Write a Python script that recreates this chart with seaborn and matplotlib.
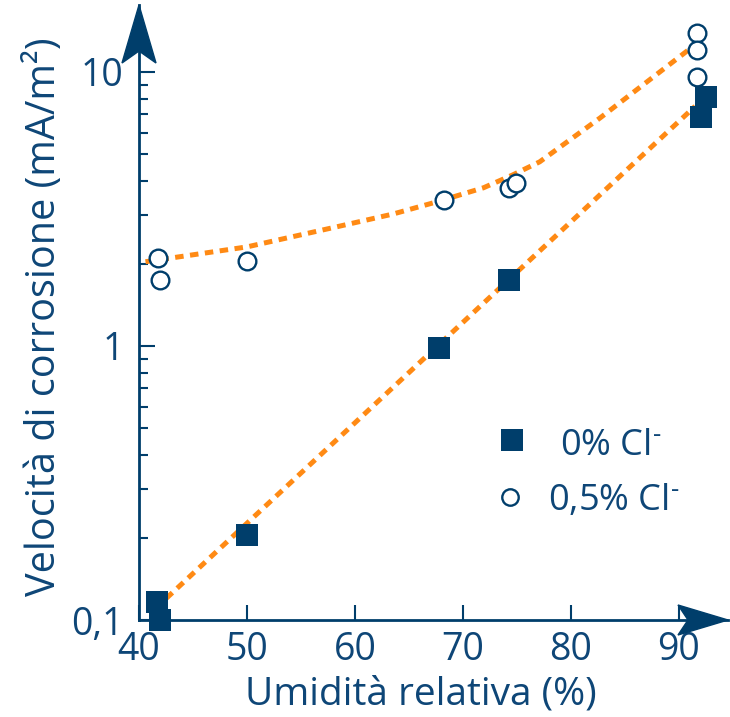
import numpy as np
import pandas as pd
import matplotlib
matplotlib.use('Agg')
import matplotlib.pyplot as plt
import seaborn as sns
from matplotlib.patches import Polygon
from matplotlib.ticker import NullFormatter

# 0% Cl- (quadrati)
sq_x = [41.7, 41.9, 50.0, 67.8, 74.3, 92.0, 92.5]
sq_y = [0.116, 0.100, 0.204, 0.98, 1.74, 6.85, 8.1]
# 0,5% Cl- (cerchi)
ci_x = [41.8, 41.9, 50.0, 68.2, 74.3, 74.9, 91.7, 91.7, 91.7]
ci_y = [2.09, 1.74, 2.04, 3.41, 3.78, 3.94, 13.9, 12.0, 9.6]
# linee di tendenza
sq_fit_x = [41.5, 91.5]
sq_fit_y = [0.110, 7.5]
ci_fit_x = [40.6, 50.0, 57.9, 63.5, 67.6, 71.9, 74.6, 77.1, 82.7, 91.3]
ci_fit_y = [2.03, 2.30, 2.70, 3.03, 3.36, 3.78, 4.21, 4.70, 6.80, 12.4]

x_ticks = [40, 50, 60, 70, 80, 90]
y_ticks = [0.1, 1, 10]
y_labels = ['0,1', '1', '10']
legend_labels = ['0% Cl$^{\u2010}$', '0,5% Cl$^{\u2010}$']

navy = '#003e6b'
txt = '#0e4677'
orange = '#ff8a14'

sns.set_theme(style='white')
plt.rcParams['font.family'] = ['Open Sans', 'DejaVu Sans']
plt.rcParams['mathtext.fontset'] = 'custom'
plt.rcParams['mathtext.rm'] = 'Open Sans'
plt.rcParams['mathtext.it'] = 'Open Sans'
plt.rcParams['mathtext.default'] = 'regular'
plt.rcParams['xtick.direction'] = 'in'
plt.rcParams['ytick.direction'] = 'in'
plt.rcParams['xtick.bottom'] = True
plt.rcParams['ytick.left'] = True
fs = 27

fig = plt.figure(figsize=(7.3, 7.17), dpi=100)
ax = fig.add_axes([139/730, 97/717, 589/730, 615/717])

dots = (0, (1.7, 1.3))
sns.lineplot(x=sq_fit_x, y=sq_fit_y, ax=ax, color=orange, lw=3.6, linestyle=dots, zorder=2)
sns.lineplot(x=ci_fit_x, y=ci_fit_y, ax=ax, color=orange, lw=3.6, linestyle=dots, zorder=2)

sns.scatterplot(x=sq_x, y=sq_y, ax=ax, marker='s', s=235, color=navy, edgecolor=navy,
                linewidth=0, zorder=6, clip_on=False)
sns.scatterplot(x=ci_x, y=ci_y, ax=ax, marker='o', s=162, facecolor='white', edgecolor=navy,
                linewidth=1.7, zorder=5, clip_on=False)

ax.set_yscale('log')
ax.set_xlim(40, 94.54)
ax.set_ylim(0.1, 17.56)
ax.set_xticks(x_ticks)
ax.set_xticklabels([str(v) for v in x_ticks])
ax.set_yticks(y_ticks)
ax.set_yticklabels(y_labels)
ax.yaxis.set_minor_formatter(NullFormatter())

ax.tick_params(axis='both', which='both', direction='in', colors=navy, width=1.5)
ax.tick_params(axis='both', which='major', labelcolor=txt, labelsize=fs)
ax.tick_params(axis='x', which='major', length=11, pad=8, bottom=True)
ax.tick_params(axis='y', which='major', length=11.5, pad=11, left=True)
ax.tick_params(axis='y', which='minor', length=6.5, left=True)

for s in ['top', 'right']:
    ax.spines[s].set_visible(False)
for s in ['left', 'bottom']:
    ax.spines[s].set_color(navy)
    ax.spines[s].set_linewidth(2)

ax.set_xlabel('Umidità relativa (%)', fontsize=28, color=txt, va='center', ha='center')
ax.set_ylabel('Velocità di corrosione (mA/m²)', fontsize=28.5, color=txt, va='center', ha='center')
ax.xaxis.set_label_coords(0.479, -0.121)
ax.yaxis.set_label_coords(-0.160, 0.494)

# frecce degli assi
W, H = 589.0, 615.0
ya = Polygon([(0, 1), (-17/W, 1 - 58/H), (0, 1 - 46/H), (17/W, 1 - 58/H)],
             closed=True, transform=ax.transAxes, clip_on=False, color=navy, zorder=7)
xa = Polygon([(1, 0), (1 - 50/W, 15/H), (1 - 40/W, 0), (1 - 50/W, -15/H)],
             closed=True, transform=ax.transAxes, clip_on=False, color=navy, zorder=7)
ax.add_patch(ya)
ax.add_patch(xa)

# legenda
ax.scatter([0.633], [0.293], marker='s', s=235, color=navy, linewidth=0, transform=ax.transAxes)
ax.scatter([0.630], [0.200], marker='o', s=140, facecolor='white', edgecolor=navy,
           linewidth=1.7, transform=ax.transAxes)
ax.text(0.801, 0.268, legend_labels[0], fontsize=26, color=txt, ha='center', va='baseline',
        transform=ax.transAxes)
ax.text(0.806, 0.179, legend_labels[1], fontsize=26, color=txt, ha='center', va='baseline',
        transform=ax.transAxes)

fig.savefig('out.png', dpi=100)
